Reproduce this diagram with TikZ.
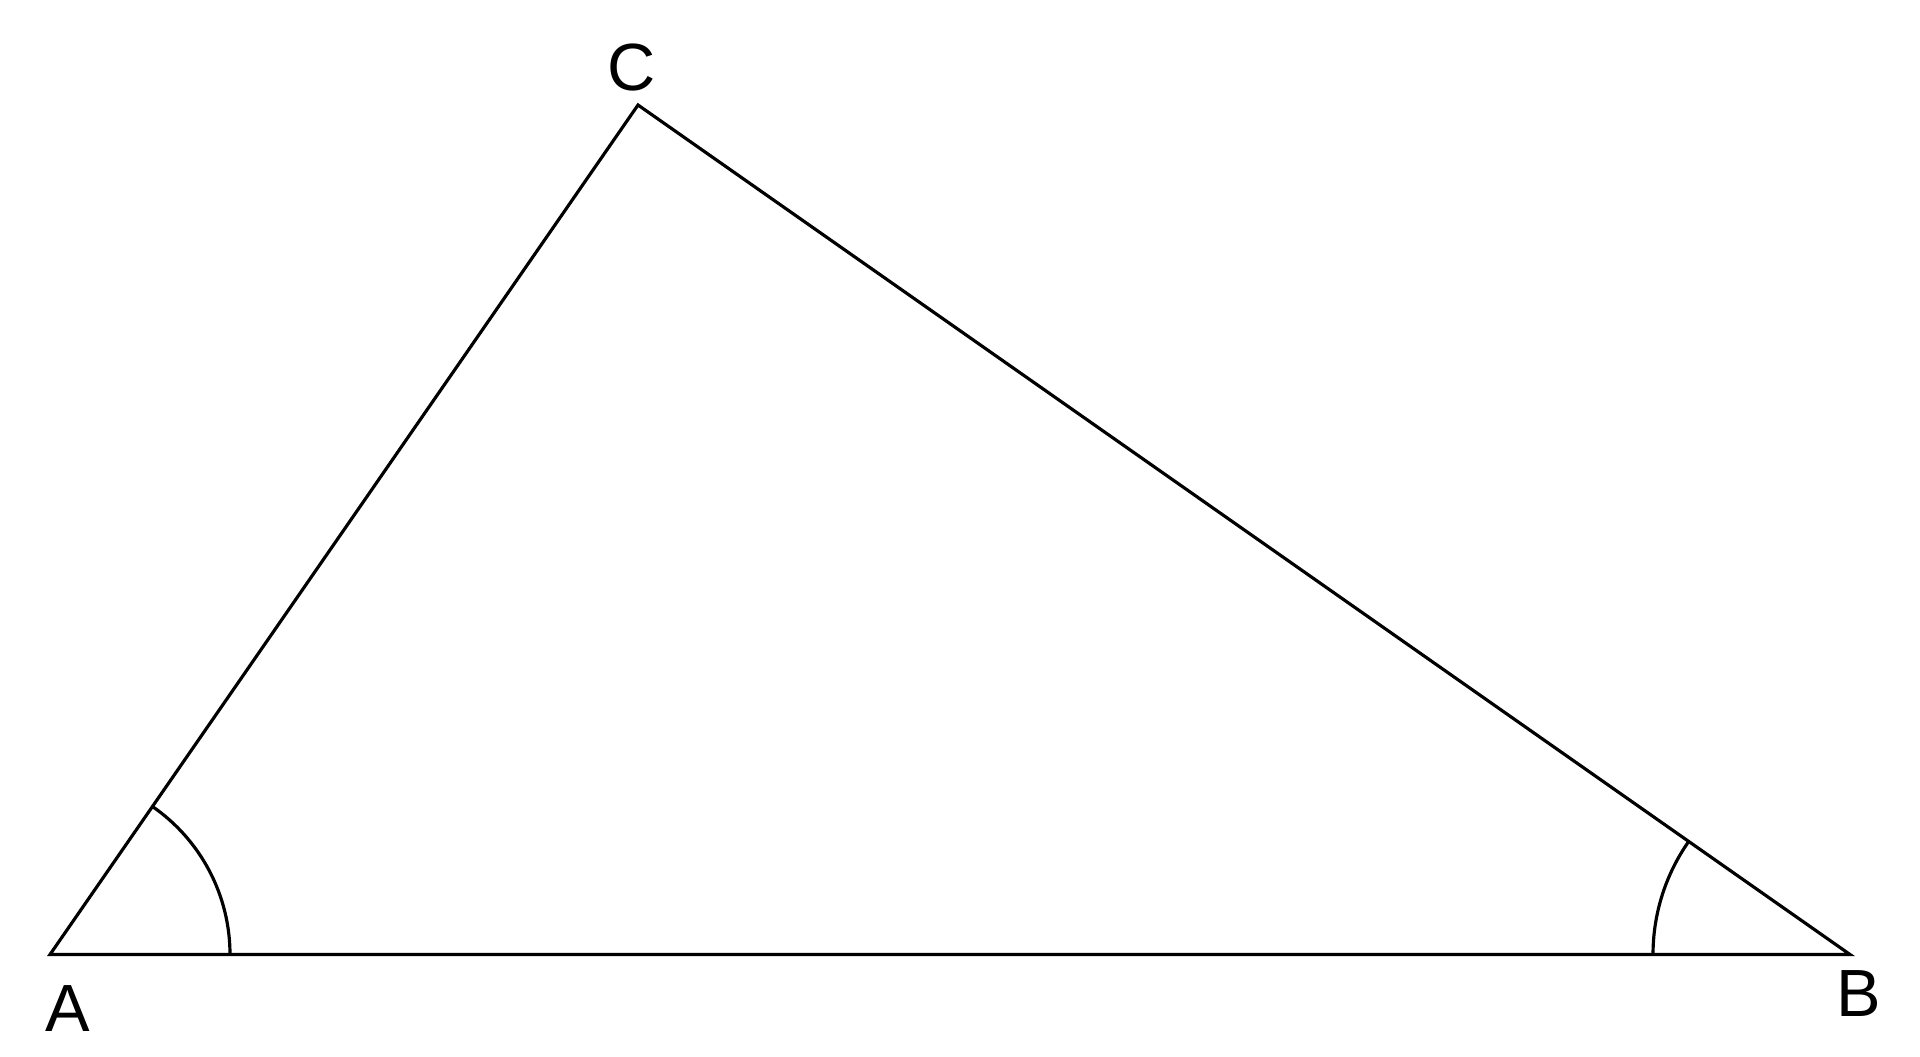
\documentclass[tikz,border=0pt]{standalone}
\usepackage{fontspec}
\setmainfont{Liberation Sans}
\usetikzlibrary{angles}

\begin{document}
\begin{tikzpicture}[
		side/.style={line width=0.9pt},
		vertexlabel/.style={inner sep=0pt, font=\fontsize{19}{23}\selectfont}
	]
			%%%%% FRAME %%%%%
			\useasboundingbox (0, 0) rectangle (19.2, 10.56);
			
			\coordinate (A) at (0.50, 1.015);
			\coordinate (B) at (18.50, 1.015);
			\coordinate (C) at (6.38, 9.51);
			
			%%%%% TRIANGLE %%%%%
			\draw[side] (A) -- (B) -- (C) -- cycle;
			
			\pic[draw, side, angle radius=1.8cm] {angle = B--A--C};
			\pic[draw, side, angle radius=1.97cm] {angle = C--B--A};
			
			%%%%% LABELS %%%%%
			\node[vertexlabel] (labelA) at (0.675, 0.47) {A};
			\node[vertexlabel] (labelB) at (18.59, 0.62) {B};
			\node[vertexlabel] (labelC) at (6.32, 9.88) {C};
			
		\end{tikzpicture}
\end{document}
